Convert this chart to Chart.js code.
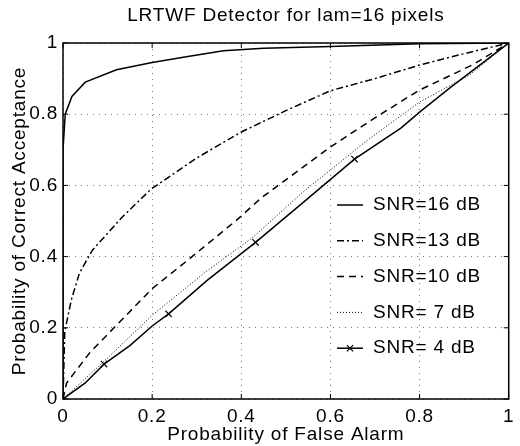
<!DOCTYPE html>
<html>
<head>
<meta charset="utf-8">
<script src="https://cdn.jsdelivr.net/npm/chart.js@4"></script>
<style>
  html, body { margin: 0; padding: 0; background: #fff; }
  #wrap { width: 520px; height: 446px; }
</style>
</head>
<body>
<div id="wrap"><canvas id="roc"></canvas></div>
<script>
  // ROC curves
  const fa16 = [0, 0, 0.005, 0.02, 0.05, 0.12, 0.2, 0.28, 0.36, 0.45, 0.6, 0.8, 1]
  const pd16 = [0, 0.7, 0.8, 0.85, 0.89, 0.925, 0.945, 0.962, 0.978, 0.985, 0.99, 0.998, 1]

  const fa13 = [0, 0.004, 0.019, 0.037, 0.066, 0.132, 0.198, 0.3, 0.4, 0.5, 0.6, 0.7, 0.8, 0.9, 1]
  const pd13 = [0, 0.19, 0.28, 0.354, 0.418, 0.51, 0.59, 0.677, 0.75, 0.81, 0.866, 0.9, 0.938, 0.97, 1]

  const fa10 = [0, 0.008, 0.06, 0.2, 0.28, 0.39, 0.445, 0.6, 0.7, 0.8, 0.918, 1]
  const pd10 = [0, 0.045, 0.13, 0.31, 0.39, 0.503, 0.565, 0.708, 0.79, 0.868, 0.938, 1]

  const fa7 = [0, 0.1, 0.2, 0.317, 0.427, 0.537, 0.683, 0.8, 0.912, 1]
  const pd7 = [0, 0.115, 0.235, 0.354, 0.455, 0.58, 0.727, 0.834, 0.91, 1]

  const fa4 = [0, 0.05, 0.092, 0.15, 0.2, 0.237, 0.324, 0.432, 0.551, 0.654, 0.758, 0.8, 0.868, 1]
  const pd4 = [0, 0.045, 0.098, 0.15, 0.205, 0.239, 0.334, 0.44, 0.565, 0.674, 0.761, 0.806, 0.874, 1]
  const marks4 = [2, 5, 7, 9]

  const labels = ['SNR=16 dB', 'SNR=13 dB', 'SNR=10 dB', 'SNR= 7 dB', 'SNR= 4 dB']
  const xTicks = [0, 0.2, 0.4, 0.6, 0.8, 1]
  const yTicks = [0, 0.2, 0.4, 0.6, 0.8, 1]

  const FONT = 'Liberation Sans, Arial, Helvetica, sans-serif'
  const FSIZE = 19

  function pts(xs, ys) {
    return xs.map((x, i) => ({ x: x, y: ys[i] }))
  }

  function fmt(v) {
    return (v === 0 || v === 1) ? String(v) : v.toFixed(1)
  }

  const series = [
    { fa: fa16, pd: pd16, dash: [] },
    { fa: fa13, pd: pd13, dash: [7, 3, 2, 3] },
    { fa: fa10, pd: pd10, dash: [7, 5] },
    { fa: fa7, pd: pd7, dash: [1, 2] },
    { fa: fa4, pd: pd4, dash: [] }
  ]

  const datasets = series.map((s, i) => ({
    label: labels[i],
    data: pts(s.fa, s.pd),
    borderColor: '#000',
    backgroundColor: '#000',
    borderWidth: i === 3 ? 1 : 1.5,
    borderDash: s.dash,
    pointStyle: 'crossRot',
    pointRadius: i === 4 ? (ctx => marks4.includes(ctx.dataIndex) ? 4.5 : 0) : 0,
    pointBorderWidth: 1.2,
    pointBorderColor: '#000',
    tension: 0
  }))

  // title, frame, inner ticks and legend drawn MATLAB style
  const matlabLook = {
    id: 'matlabLook',
    beforeDraw(chart) {
      chart.ctx.letterSpacing = '0.8px'
    },
    afterDraw(chart) {
      const c = chart.ctx
      const a = chart.chartArea
      const xs = chart.scales.x
      const ys = chart.scales.y
      c.save()
      c.fillStyle = '#000'
      c.font = FSIZE + 'px ' + FONT
      c.textAlign = 'center'
      c.textBaseline = 'middle'
      c.fillText('LRTWF Detector for lam=16 pixels', (a.left + a.right) / 2, 16)

      c.strokeStyle = '#000'
      c.lineWidth = 1.5
      c.setLineDash([])
      c.strokeRect(a.left, a.top, a.right - a.left, a.bottom - a.top)
      c.lineWidth = 1
      c.beginPath()
      xTicks.forEach(v => {
        const px = xs.getPixelForValue(v)
        c.moveTo(px, a.bottom); c.lineTo(px, a.bottom - 5)
        c.moveTo(px, a.top); c.lineTo(px, a.top + 5)
      })
      yTicks.forEach(v => {
        const py = ys.getPixelForValue(v)
        c.moveTo(a.left, py); c.lineTo(a.left + 5, py)
        c.moveTo(a.right, py); c.lineTo(a.right - 5, py)
      })
      c.stroke()

      // legend
      const lx0 = 337, lx1 = 363, tx = 373
      chart.data.datasets.forEach((ds, i) => {
        const ly = 205 + i * 35.8
        c.lineWidth = ds.borderWidth
        c.setLineDash(ds.borderDash)
        c.beginPath()
        c.moveTo(lx0, ly); c.lineTo(lx1, ly)
        c.stroke()
        c.setLineDash([])
        if (i === 4) {
          const cx = (lx0 + lx1) / 2, r = 4.5
          c.lineWidth = 1.2
          c.beginPath()
          c.moveTo(cx - r * 0.7, ly - r * 0.7); c.lineTo(cx + r * 0.7, ly + r * 0.7)
          c.moveTo(cx - r * 0.7, ly + r * 0.7); c.lineTo(cx + r * 0.7, ly - r * 0.7)
          c.stroke()
        }
        c.textAlign = 'left'
        c.fillText(ds.label, tx, ly)
      })
      c.restore()
    }
  }

  const tickFont = { family: FONT, size: FSIZE }

  new Chart(document.getElementById('roc'), {
    type: 'line',
    data: { datasets: datasets },
    plugins: [matlabLook],
    options: {
      responsive: true,
      maintainAspectRatio: false,
      animation: false,
      layout: { padding: { top: 43, right: 3, left: 0, bottom: 0 } },
      plugins: {
        legend: { display: false },
        title: { display: false },
        tooltip: { enabled: false }
      },
      scales: {
        x: {
          type: 'linear',
          min: 0,
          max: 1,
          afterBuildTicks: s => { s.ticks = xTicks.map(v => ({ value: v })) },
          afterFit: s => { s.height = 47 },
          ticks: { color: '#000', font: tickFont, padding: 6, maxRotation: 0, callback: fmt },
          grid: { color: '#777', drawTicks: false, lineWidth: 1 },
          border: { display: false, dash: [1, 5] },
          title: {
            display: true,
            text: 'Probability of False Alarm',
            color: '#000',
            font: tickFont,
            padding: { top: 0, bottom: 0 }
          }
        },
        y: {
          type: 'linear',
          min: 0,
          max: 1,
          afterBuildTicks: s => { s.ticks = yTicks.map(v => ({ value: v })) },
          afterFit: s => { s.width = 63 },
          ticks: { color: '#000', font: tickFont, padding: 5, callback: fmt },
          grid: { color: '#777', drawTicks: false, lineWidth: 1 },
          border: { display: false, dash: [1, 5] },
          title: {
            display: true,
            text: 'Probability of Correct Acceptance',
            color: '#000',
            font: tickFont,
            padding: { top: 8, bottom: 0 }
          }
        }
      }
    }
  })
</script>
</body>
</html>
